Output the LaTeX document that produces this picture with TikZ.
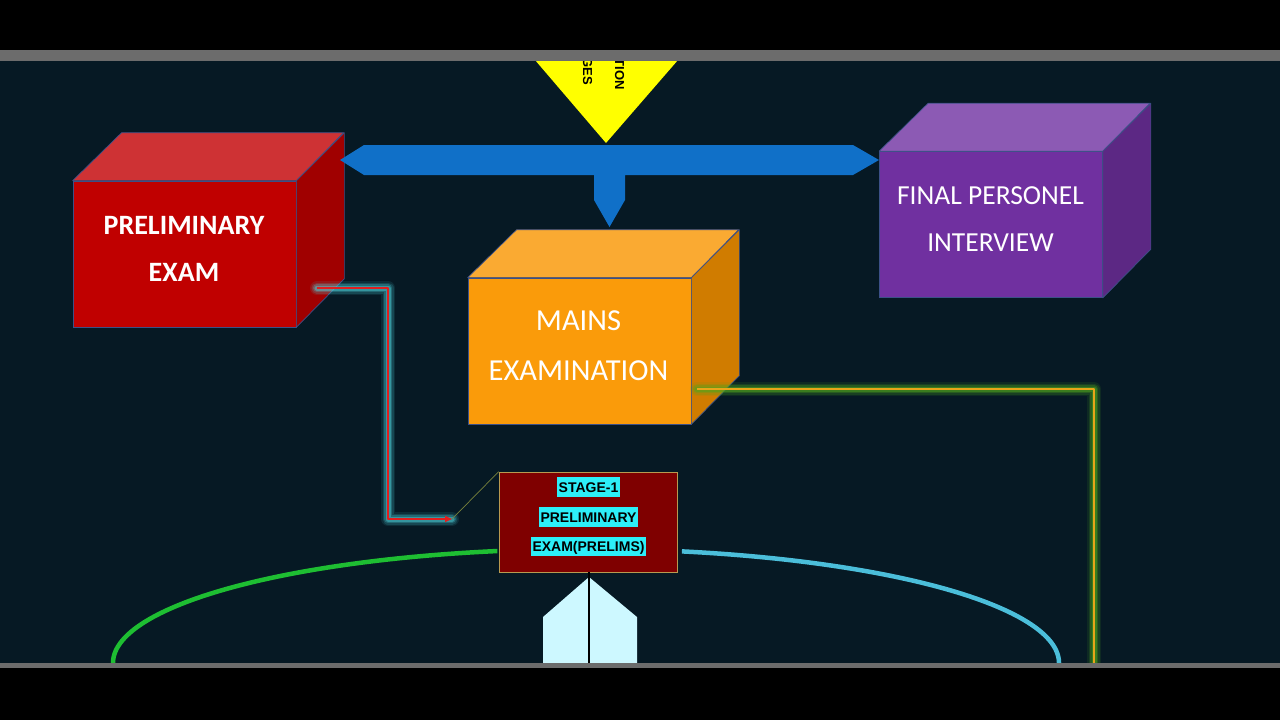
\documentclass[tikz,border=0pt]{standalone}
\usepackage{fontspec}
\setmainfont{Carlito}
\newfontfamily\arialfont{Liberation Sans}
\usetikzlibrary{arrows.meta}
\definecolor{bgnavy}{RGB}{6,25,36}
\definecolor{bargray}{RGB}{108,108,108}
\definecolor{edgec}{RGB}{60,80,135}
\definecolor{redfront}{RGB}{192,0,0}
\definecolor{redtop}{RGB}{206,50,52}
\definecolor{redside}{RGB}{160,0,0}
\definecolor{orfront}{RGB}{250,155,10}
\definecolor{ortop}{RGB}{250,170,50}
\definecolor{orside}{RGB}{208,124,0}
\definecolor{pufront}{RGB}{112,48,160}
\definecolor{putop}{RGB}{140,90,180}
\definecolor{puside}{RGB}{92,40,132}
\definecolor{bluearrow}{RGB}{16,112,200}
\definecolor{triyellow}{RGB}{255,255,0}
\definecolor{stagered}{RGB}{127,0,0}
\definecolor{stageedge}{RGB}{184,154,80}
\definecolor{hlcyan}{RGB}{45,238,248}
\definecolor{glowcyan}{RGB}{80,215,225}
\definecolor{glowgreen}{RGB}{80,165,30}
\definecolor{orline}{RGB}{232,165,25}
\definecolor{redline}{RGB}{225,30,30}
\definecolor{olivec}{RGB}{120,130,60}
\definecolor{arcgreen}{RGB}{30,190,50}
\definecolor{arccyan}{RGB}{75,190,218}
\definecolor{pentcyan}{RGB}{205,248,255}
\newcommand\drawcubefaces[3]{%
  \filldraw[cubeface, fill=#2] (#1.north west) -- ++(49,-48) -- ++(222,0) -- (#1.north east) -- cycle;
  \filldraw[cubeface, fill=#3] (#1.north east) -- ++(48,-48) -- ++(0,146) -- (#1.south east) -- cycle;}
\tikzset{
  cubefront/.style={minimum width=223pt, minimum height=146pt, inner sep=0pt, draw=edgec, line width=0.7pt},
  cubeface/.style={draw=edgec, line width=0.7pt, line join=round},
  cubetext/.style={text=white, align=center, inner sep=0pt},
  hl/.style={fill=hlcyan, text=black, font=\arialfont\bfseries\fontsize{14}{14}\selectfont, inner xsep=1.5pt, inner ysep=4.5pt, text height=10.5pt, text depth=0pt},
  tritext/.style={rotate=-90, anchor=east, inner sep=0pt, font=\arialfont\bfseries\fontsize{13}{13}\selectfont, text=black},
  connline/.style={line width=1.5pt, line join=round},
}
\begin{document}
\begin{tikzpicture}[x=1pt,y=-1pt]
\useasboundingbox (0,0) rectangle (1280,720);
\fill[black] (0,0) rectangle (1280,720);
\fill[bgnavy] (0,60) rectangle (1280,664);

% yellow triangle with rotated text
\fill[triyellow] (535,60) -- (678,60) -- (606,143) -- cycle;
\node[tritext] (t1) at (619.5,90) {TION};
\node[tritext] (t2) at (587.5,85) {GES};

% cubes
\node[cubefront, fill=redfront] (pre) at (184.5,254) {};
\drawcubefaces{pre}{redtop}{redside}
\node[cubetext, font=\bfseries\fontsize{28}{47}\selectfont] (pret) at (184,249) {PRELIMINARY\\EXAM};
\node[cubefront, fill=orfront] (mains) at (579.5,351) {};
\drawcubefaces{mains}{ortop}{orside}
\node[cubetext, font=\fontsize{30.5}{50}\selectfont] (mainst) at (578.5,345.5) {MAINS\\EXAMINATION};
\node[cubefront, fill=pufront] (final) at (991,224.5) {};
\drawcubefaces{final}{putop}{puside}
\node[cubetext, font=\fontsize{27.5}{47}\selectfont] (finalt) at (990.5,219) {FINAL PERSONEL\\INTERVIEW};

% blue branching arrow
\fill[bluearrow] (340,160) -- (364,145) -- (853,145) -- (879,160) -- (853,175)
  -- (625,175) -- (625,200) -- (609.5,227) -- (594,200) -- (594,175) -- (364,175) -- cycle;

% red connector with cyan glow
\coordinate (r0) at (317,288);
\coordinate (r1) at (388,288);
\coordinate (r2) at (388,519);
\coordinate (r3) at (452,519);
\foreach \w/\o in {14/0.10, 11/0.16, 8/0.24, 5/0.4}
  \draw[line width=\w pt, draw=glowcyan, opacity=\o, line join=round, line cap=round] (r0) -- (r1) -- (r2) -- (r3);
\draw[connline, draw=redline, -{Triangle[length=7pt,width=6pt]}] (r0) -- (r1) -- (r2) -- (r3);

% orange connector with green glow
\coordinate (m0) at (697,389);
\coordinate (m1) at (1094,389);
\coordinate (m2) at (1094,668);
\foreach \w/\o in {14/0.12, 11/0.18, 8/0.28, 5/0.45}
  \draw[line width=\w pt, draw=glowgreen, opacity=\o, line join=round, line cap=round] (m0) -- (m1) -- (m2);
\draw[connline, draw=orline] (m0) -- (m1) -- (m2);

% arcs
\draw[line width=4.5pt, draw=arcgreen] plot[domain=100.8:180, samples=80, smooth] ({586+473*cos(\x)}, {663-114*sin(\x)});
\draw[line width=4.5pt, draw=arccyan] plot[domain=0:78.3, samples=80, smooth] ({586+473*cos(\x)}, {663-114*sin(\x)});

% pentagon arrow
\fill[pentcyan] (543,664) -- (543,617) -- (589,577) -- (637,617) -- (637,664) -- cycle;

% stage box
\node[minimum width=178pt, minimum height=100pt, inner sep=0pt, fill=stagered, draw=stageedge, line width=0.7pt] (s1) at (588,522) {};
\node[hl] (h1) at (588.5,487) {STAGE-1};
\node[hl] (h2) at (588.5,517) {PRELIMINARY};
\node[hl] (h3) at (588.5,546.5) {EXAM(PRELIMS)};
\draw[draw=olivec, line width=0.7pt] (r3) -- (s1.north west);
\coordinate (pb) at (589,664);
\draw[black, line width=1.3pt] (s1.south -| pb) -- (pb);

% frame bars
\fill[black] (0,668) rectangle (1280,720);
\fill[bargray] (0,50) rectangle (1280,60.5);
\fill[bargray] (0,663) rectangle (1280,668);
\end{tikzpicture}
\end{document}
